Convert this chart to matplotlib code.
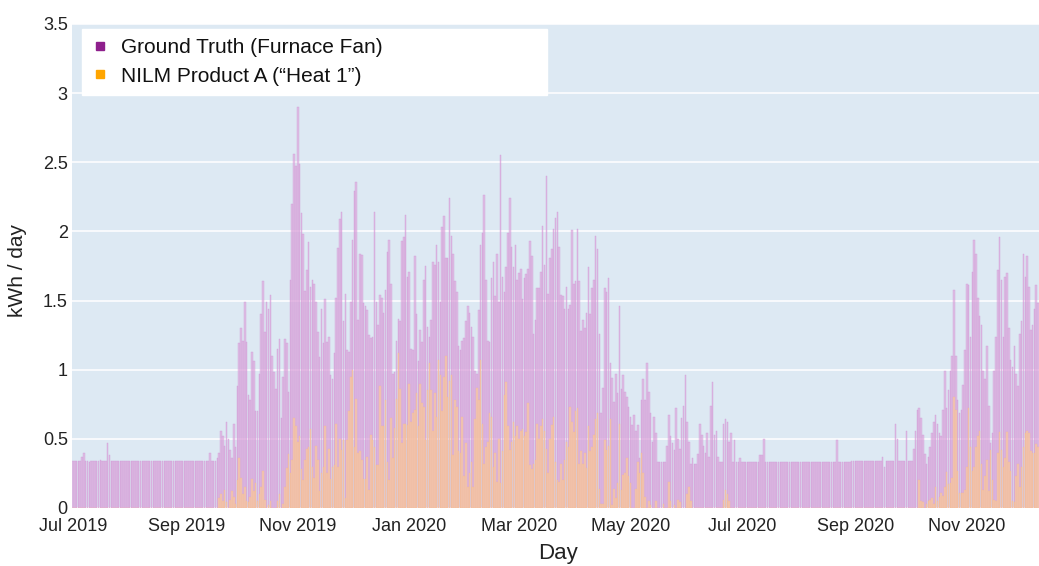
#!/usr/bin/env python
################################################################################
###  plot.py: daily furnace fan energy, ground truth vs. NILM product estimate
################################################################################

import numpy as np
import pandas as pd
import matplotlib
matplotlib.use('Agg')
import matplotlib.pyplot as plt
import matplotlib.dates as mdates
from matplotlib.lines import Line2D
from matplotlib.ticker import FuncFormatter, MultipleLocator

plt.rcParams['font.family'] = ['Liberation Sans', 'DejaVu Sans']

################################################################################
### data (kWh/day), one value per day starting 2019-07-01
first_day = '2019-07-01'

# ground truth (furnace fan)
gt_jul_sep_2019 = [
    0.34, 0.34, 0.34, 0.34, 0.34, 0.37, 0.40, 0.34, 0.34, 0.33,
    0.34, 0.34, 0.34, 0.34, 0.34, 0.35, 0.34, 0.34, 0.34, 0.47,
    0.38, 0.34, 0.34, 0.34, 0.34, 0.34, 0.34, 0.34, 0.34, 0.34,
    0.34, 0.34, 0.34, 0.34, 0.34, 0.34, 0.34, 0.34, 0.34, 0.34,
    0.34, 0.34, 0.34, 0.34, 0.34, 0.34, 0.34, 0.34, 0.34, 0.34,
    0.34, 0.34, 0.34, 0.34, 0.34, 0.34, 0.34, 0.34, 0.34, 0.34,
    0.34, 0.34, 0.34, 0.34, 0.34, 0.34, 0.34, 0.34, 0.34, 0.34,
    0.34, 0.34, 0.34, 0.34, 0.34, 0.40, 0.34, 0.34, 0.34, 0.36]
gt_sep_nov_2019 = [
    0.40, 0.56, 0.52, 0.45, 0.62, 0.50, 0.42, 0.36, 0.61, 0.44,
    0.88, 1.19, 1.30, 1.21, 1.49, 1.20, 0.82, 0.78, 1.13, 1.06,
    0.70, 0.70, 0.97, 1.40, 1.64, 1.27, 1.49, 1.44, 1.54, 1.10,
    0.98, 0.86, 1.15, 1.22, 0.65, 0.95, 1.22, 1.19, 0.84, 1.65,
    2.20, 2.56, 2.47, 2.90, 2.49, 2.13, 1.98, 1.57, 1.72, 1.92,
    1.60, 1.65, 1.62, 1.49, 1.27, 1.09, 1.44, 1.19]
gt_nov_jan = [
    1.51, 1.20, 1.24, 0.96, 0.93, 1.12, 1.52, 1.88, 2.09, 2.14,
    1.35, 1.55, 1.14, 1.13, 1.49, 1.94, 2.29, 2.36, 1.36, 1.84,
    1.83, 1.48, 1.46, 1.43, 1.25, 1.23, 1.24, 2.14, 1.49, 1.32,
    1.54, 1.52, 1.41, 1.58, 1.85, 1.94, 1.62, 0.97, 0.98, 1.21,
    1.37, 1.35, 1.93, 1.96, 2.12, 1.67, 1.71, 1.15, 1.14, 1.82,
    1.40, 1.06, 1.29, 1.20, 1.65, 1.75, 1.31, 1.24, 1.36, 1.78,
    1.76, 1.90, 1.78, 1.49, 2.03, 2.11, 1.81, 1.81, 2.24]
gt_jan_mar = [
    1.97, 1.84, 1.64, 1.56, 1.17, 1.14, 1.21, 1.23, 1.35, 1.46,
    1.41, 1.31, 1.24, 0.99, 0.97, 1.43, 1.90, 1.99, 2.26, 1.65,
    1.21, 1.20, 1.66, 1.78, 1.53, 1.84, 1.49, 2.55, 1.67, 1.56,
    1.74, 1.99, 2.24, 1.89, 1.74, 1.90, 1.65, 1.70, 1.73, 1.51,
    1.66, 1.69, 1.73, 1.93, 1.82, 1.26, 1.36, 1.59, 1.59, 1.71,
    2.04, 1.76, 2.40, 1.55, 1.81, 1.87, 2.02, 2.10, 2.14, 1.89,
    1.54, 1.53, 1.44, 1.60, 1.44, 1.47, 2.01, 1.62, 1.64]
gt_mar_jun = [
    2.02, 1.64, 1.28, 1.36, 1.30, 1.41, 1.74, 1.40, 1.59, 1.65,
    1.97, 1.87, 1.26, 0.69, 0.87, 1.59, 1.56, 1.66, 1.05, 0.94,
    0.77, 0.97, 0.83, 1.46, 0.86, 0.96, 0.84, 0.80, 0.73, 0.66,
    0.60, 0.67, 0.56, 0.60, 0.36, 0.78, 0.93, 0.78, 1.05, 0.84,
    0.69, 0.48, 0.66, 0.54, 0.33, 0.33, 0.33, 0.33, 0.33, 0.45,
    0.67, 0.52, 0.47, 0.42, 0.72, 0.50, 0.43, 0.65, 0.74, 0.96,
    0.62, 0.48, 0.32, 0.36, 0.32, 0.32, 0.39, 0.61, 0.53, 0.45]
gt_jun_sep_2020 = [
    0.40, 0.54, 0.37, 0.74, 0.91, 0.53, 0.56, 0.37, 0.33, 0.33,
    0.61, 0.64, 0.62, 0.48, 0.54, 0.33, 0.49, 0.33, 0.33, 0.36,
    0.33, 0.33, 0.33, 0.33, 0.33, 0.33, 0.33, 0.33, 0.33, 0.33,
    0.38, 0.38, 0.50, 0.33, 0.33, 0.33, 0.33, 0.33, 0.33, 0.33,
    0.33, 0.33, 0.33, 0.33, 0.33, 0.33, 0.33, 0.33, 0.33, 0.33,
    0.33, 0.33, 0.33, 0.33, 0.33, 0.33, 0.33, 0.33, 0.33, 0.33,
    0.33, 0.33, 0.33, 0.33, 0.33, 0.33, 0.33, 0.33, 0.33, 0.33,
    0.33, 0.33, 0.49, 0.33, 0.33, 0.33, 0.33, 0.33, 0.33, 0.33,
    0.34, 0.34, 0.34, 0.34, 0.34, 0.34, 0.34, 0.34, 0.34, 0.34,
    0.34, 0.34, 0.34, 0.34, 0.34, 0.34, 0.34, 0.37, 0.30, 0.34,
    0.34, 0.34, 0.34, 0.34, 0.61, 0.50]
gt_sep_dec_2020 = [
    0.34, 0.34, 0.34, 0.34, 0.56, 0.34, 0.34, 0.34,
    0.43, 0.56, 0.71, 0.72, 0.65, 0.53, 0.39, 0.32, 0.37, 0.44,
    0.54, 0.62, 0.67, 0.61, 0.54, 0.52, 0.71, 0.99,
    0.72, 0.85, 0.99, 1.10, 1.58, 1.10, 0.78, 0.69, 0.71,
    0.89, 1.14, 1.62, 1.61, 1.24, 1.71, 1.94, 1.84, 1.52, 1.39,
    1.32, 0.99, 0.93, 1.17, 0.74, 0.47, 0.54, 0.99, 1.24,
    1.72, 1.96, 1.65, 1.24, 1.67, 1.70, 1.30, 1.07, 1.02, 1.17,
    0.97, 0.88, 1.26, 1.35, 1.84, 1.67, 1.82, 1.60, 1.29,
    1.32, 1.44, 1.61, 1.48]

# NILM product A ("Heat 1")
nilm_jul_sep_2019 = [
    0.0, 0.0, 0.0, 0.0, 0.0, 0.0, 0.0, 0.0, 0.0, 0.0,
    0.0, 0.0, 0.0, 0.0, 0.0, 0.0, 0.0, 0.0, 0.0, 0.0,
    0.0, 0.0, 0.0, 0.0, 0.0, 0.0, 0.0, 0.0, 0.0, 0.0,
    0.0, 0.0, 0.0, 0.0, 0.0, 0.0, 0.0, 0.0, 0.0, 0.0,
    0.0, 0.0, 0.0, 0.0, 0.0, 0.0, 0.0, 0.0, 0.0, 0.0,
    0.0, 0.0, 0.0, 0.0, 0.0, 0.0, 0.0, 0.0, 0.0, 0.0,
    0.0, 0.0, 0.0, 0.0, 0.0, 0.0, 0.0, 0.0, 0.0, 0.0,
    0.0, 0.0, 0.0, 0.0, 0.0, 0.0, 0.0, 0.0, 0.0, 0.0]
nilm_sep_nov_2019 = [
    0.07, 0.10, 0.05, 0.13, 0.04, 0.00, 0.06, 0.12, 0.08, 0.03,
    0.20, 0.36, 0.22, 0.10, 0.15, 0.05, 0.04, 0.08, 0.21, 0.12,
    0.18, 0.05, 0.10, 0.15, 0.27, 0.06, 0.00, 0.02, 0.05, 0.00,
    0.00, 0.00, 0.05, 0.10, 0.00, 0.03, 0.15, 0.29, 0.39, 0.25,
    0.35, 0.65, 0.59, 0.48, 0.52, 0.28, 0.20, 0.35, 0.43, 0.44,
    0.57, 0.30, 0.22, 0.45, 0.35, 0.12, 0.25, 0.30]
nilm_nov_jan = [
    0.59, 0.25, 0.43, 0.21, 0.30, 0.31, 0.61, 0.30, 0.50, 0.42,
    0.49, 0.07, 0.49, 0.70, 0.95, 1.00, 0.44, 0.79, 0.40, 0.41,
    0.35, 0.21, 0.21, 0.37, 0.13, 0.53, 0.49, 0.44, 0.31, 0.31,
    0.88, 0.59, 0.59, 0.78, 0.33, 0.20, 0.65, 0.36, 0.58, 0.79,
    1.12, 0.86, 0.47, 0.61, 0.61, 0.60, 0.90, 0.62, 0.69, 0.71,
    0.83, 0.59, 0.90, 0.76, 0.73, 0.49, 0.85, 1.05, 0.85, 0.56,
    0.83, 0.66, 1.07, 0.96, 0.70, 0.95, 1.10, 0.80, 0.92]
nilm_jan_mar = [
    0.96, 0.38, 0.78, 0.73, 0.41, 0.40, 0.66, 0.23, 0.47, 0.15,
    0.25, 0.33, 0.15, 0.64, 0.87, 0.78, 1.07, 0.61, 0.32, 0.44,
    0.48, 0.69, 0.66, 0.30, 0.40, 0.19, 0.50, 0.18, 0.41, 0.82,
    0.91, 0.59, 0.42, 0.48, 0.62, 0.52, 0.59, 0.50, 0.56, 0.57,
    0.52, 0.55, 0.76, 0.31, 0.28, 0.32, 0.35, 0.61, 0.50, 0.59,
    0.64, 0.56, 0.43, 0.25, 0.50, 0.60, 0.66, 0.33, 0.20, 0.19,
    0.32, 0.20, 0.35, 0.48, 0.44, 0.73, 0.62, 0.55, 0.70]
nilm_mar_jun = [
    0.72, 0.32, 0.41, 0.32, 0.40, 0.29, 0.59, 0.41, 0.44, 0.53,
    0.64, 0.69, 0.14, 0.03, 0.03, 0.49, 0.42, 0.45, 0.64, 0.02,
    0.14, 0.07, 0.18, 0.61, 0.13, 0.24, 0.25, 0.36, 0.23, 0.18,
    0.00, 0.00, 0.14, 0.33, 0.25, 0.40, 0.25, 0.08, 0.00, 0.05,
    0.02, 0.00, 0.00, 0.05, 0.00, 0.00, 0.00, 0.03, 0.00, 0.00,
    0.19, 0.05, 0.00, 0.02, 0.00, 0.06, 0.04, 0.00, 0.00, 0.00,
    0.10, 0.15, 0.05, 0.00, 0.00, 0.00, 0.00, 0.00, 0.00, 0.00]
nilm_jun_sep_2020 = [
    0.0, 0.0, 0.0, 0.0, 0.0, 0.0, 0.0, 0.0, 0.0, 0.0,
    0.06, 0.13, 0.10, 0.05, 0.0, 0.0, 0.0, 0.0, 0.0, 0.0,
    0.0, 0.0, 0.0, 0.0, 0.0, 0.0, 0.0, 0.0, 0.0, 0.0,
    0.0, 0.0, 0.0, 0.0, 0.0, 0.0, 0.0, 0.0, 0.0, 0.0,
    0.0, 0.0, 0.0, 0.0, 0.0, 0.0, 0.0, 0.0, 0.0, 0.0,
    0.0, 0.0, 0.0, 0.0, 0.0, 0.0, 0.0, 0.0, 0.0, 0.0,
    0.0, 0.0, 0.0, 0.0, 0.0, 0.0, 0.0, 0.0, 0.0, 0.0,
    0.0, 0.0, 0.0, 0.0, 0.0, 0.0, 0.0, 0.0, 0.0, 0.0,
    0.0, 0.0, 0.0, 0.0, 0.0, 0.0, 0.0, 0.0, 0.0, 0.0,
    0.0, 0.0, 0.0, 0.0, 0.0, 0.0, 0.0, 0.0, 0.0, 0.0,
    0.0, 0.0, 0.0, 0.0, 0.0, 0.0]
nilm_sep_dec_2020 = [
    0.0, 0.0, 0.0, 0.0, 0.0, 0.0, 0.0, 0.0, 0.0, 0.0, 0.0,
    0.20, 0.05, 0.04, 0.00, 0.03, 0.05, 0.06, 0.07, 0.03, 0.15,
    0.05, 0.08, 0.11, 0.09, 0.15, 0.26, 0.17, 0.18, 0.22, 0.80,
    0.71, 0.27, 0.11, 0.11, 0.11, 0.13, 0.30, 0.72, 0.44, 0.27,
    0.30, 0.44, 0.52, 0.56, 0.32, 0.13, 0.23, 0.35, 0.12, 0.42,
    0.20, 0.06, 0.05, 0.40, 0.55, 0.42, 0.30, 0.36, 0.55, 0.33,
    0.27, 0.05, 0.04, 0.23, 0.32, 0.15, 0.30, 0.44, 0.54, 0.56,
    0.54, 0.41, 0.40, 0.40, 0.46, 0.44]

labels = ['Ground Truth (Furnace Fan)', 'NILM Product A (\u201cHeat 1\u201d)']

gt_kwh = np.array(gt_jul_sep_2019 + gt_sep_nov_2019 + gt_nov_jan + gt_jan_mar
                  + gt_mar_jun + gt_jun_sep_2020 + gt_sep_dec_2020)
nilm_kwh = np.array(nilm_jul_sep_2019 + nilm_sep_nov_2019 + nilm_nov_jan
                    + nilm_jan_mar + nilm_mar_jun + nilm_jun_sep_2020
                    + nilm_sep_dec_2020)
days = pd.date_range(first_day, periods=len(gt_kwh), freq='D')

################################################################################
### figure
fig = plt.figure(figsize=(10.39, 5.66), dpi=100)
ax = fig.add_axes([72/1039., 58/566., 967/1039., 484/566.])
ax.set_facecolor('#dde9f3')
ax.set_axisbelow(True)
ax.grid(axis='y', color='white', linewidth=1.1)

# translucent bars so the grid shows through, like the original
ax.bar(days, gt_kwh, width=0.85, color='#dea6dc', alpha=0.6,
       edgecolor='#cc88d0', linewidth=0.35)
ax.bar(days, nilm_kwh, width=0.85, color='#ffd09c', alpha=0.6,
       edgecolor='#f8b878', linewidth=0.3)

ax.set_ylim(0, 3.5)
ax.set_xlim(days[0] - pd.Timedelta(hours=12), days[-1] + pd.Timedelta(hours=12))
ax.yaxis.set_major_locator(MultipleLocator(0.5))
ax.yaxis.set_major_formatter(FuncFormatter(lambda v, p: '%g' % v))
ax.xaxis.set_major_locator(mdates.MonthLocator(bymonth=[1, 3, 5, 7, 9, 11]))
ax.xaxis.set_major_formatter(mdates.DateFormatter('%b %Y'))
ax.tick_params(axis='both', length=0, labelsize=13, colors='#222222')
ax.tick_params(axis='y', pad=3)
ax.tick_params(axis='x', pad=7)
for s in ax.spines.values():
    s.set_visible(False)

fig.text(18/1039., 1 - 270/566., 'kWh / day', rotation=90, ha='center',
         va='center', fontsize=15, color='#222222')
fig.text(558/1039., 1 - 553/566., 'Day', ha='center', va='center',
         fontsize=16, color='#222222')

### legend: white box in upper left
handles = [Line2D([], [], marker='s', linestyle='', markersize=5.5, color='#8e1f8c'),
           Line2D([], [], marker='s', linestyle='', markersize=5.5, color='#ffa500')]
leg = ax.legend(handles, labels, loc='upper left',
                bbox_to_anchor=(0.0103, 0.9897, 0.481, 0.0), mode='expand',
                borderaxespad=0, frameon=True, fancybox=False,
                facecolor='white', edgecolor='white', framealpha=1.0,
                fontsize=15, handlelength=0.8, handletextpad=0.6,
                borderpad=0.45, labelspacing=0.45)
for t in leg.get_texts():
    t.set_color('#111111')

plt.savefig('out.png', dpi=100)
